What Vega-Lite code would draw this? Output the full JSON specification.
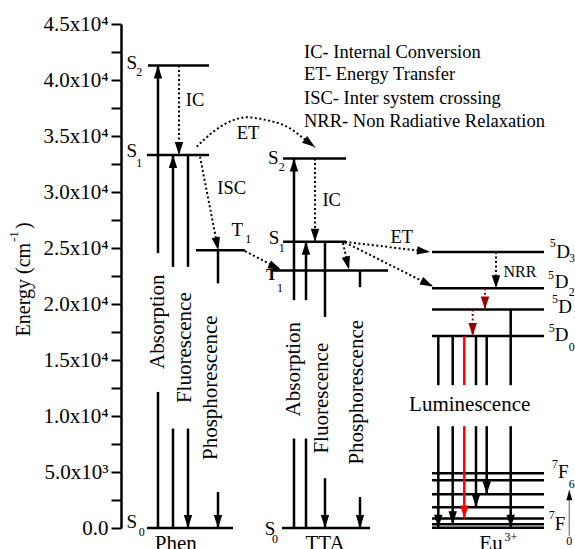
{
  "$schema": "https://vega.github.io/schema/vega-lite/v6.json",
  "width": 454,
  "height": 504,
  "autosize": {"type": "none"},
  "padding": {"left": 121, "top": 24, "right": 0, "bottom": 21},
  "background": "white",
  "config": {"view": {"stroke": null}, "text": {"font": "Liberation Serif", "color": "#000000"}},
  "datasets": {
    "solid": [
      {"x": 27, "x2": 88, "y": 41300, "y2": 41300, "role": "main"},
      {"x": 26, "x2": 88, "y": 33300, "y2": 33300, "role": "main"},
      {"x": 75, "x2": 124, "y": 24800, "y2": 24800, "role": "main"},
      {"x": 26, "x2": 112, "y": 0, "y2": 0, "role": "main"},
      {"x": 37, "x2": 37, "y": 0, "y2": 12150, "role": "main"},
      {"x": 37, "x2": 37, "y": 24540, "y2": 41300, "role": "main"},
      {"x": 52, "x2": 52, "y": 0, "y2": 8880, "role": "main"},
      {"x": 52, "x2": 52, "y": 23320, "y2": 33300, "role": "main"},
      {"x": 67, "x2": 67, "y": 23320, "y2": 33300, "role": "main"},
      {"x": 67, "x2": 67, "y": 0, "y2": 8880, "role": "main"},
      {"x": 97, "x2": 97, "y": 21840, "y2": 24800, "role": "main"},
      {"x": 97, "x2": 97, "y": 0, "y2": 3220, "role": "main"},
      {"x": 162, "x2": 225, "y": 33000, "y2": 33000, "role": "main"},
      {"x": 162, "x2": 225, "y": 25550, "y2": 25550, "role": "main"},
      {"x": 151, "x2": 267, "y": 23000, "y2": 23000, "role": "main"},
      {"x": 161, "x2": 249, "y": 0, "y2": 0, "role": "main"},
      {"x": 173, "x2": 173, "y": 0, "y2": 7990, "role": "main"},
      {"x": 173, "x2": 173, "y": 20340, "y2": 33000, "role": "main"},
      {"x": 185, "x2": 185, "y": 0, "y2": 7990, "role": "main"},
      {"x": 185, "x2": 185, "y": 20340, "y2": 25550, "role": "main"},
      {"x": 204, "x2": 204, "y": 18850, "y2": 25550, "role": "main"},
      {"x": 204, "x2": 204, "y": 0, "y2": 4440, "role": "main"},
      {"x": 239, "x2": 239, "y": 21500, "y2": 23000, "role": "main"},
      {"x": 239, "x2": 239, "y": 0, "y2": 2770, "role": "main"},
      {"x": 311, "x2": 423, "y": 24650, "y2": 24650, "role": "main"},
      {"x": 311, "x2": 423, "y": 21400, "y2": 21400, "role": "main"},
      {"x": 311, "x2": 423, "y": 19500, "y2": 19500, "role": "main"},
      {"x": 311, "x2": 423, "y": 17150, "y2": 17150, "role": "main"},
      {"x": 311, "x2": 423, "y": 4890, "y2": 4890, "role": "main"},
      {"x": 311, "x2": 423, "y": 4260, "y2": 4260, "role": "main"},
      {"x": 311, "x2": 423, "y": 3010, "y2": 3010, "role": "main"},
      {"x": 311, "x2": 423, "y": 1850, "y2": 1850, "role": "main"},
      {"x": 311, "x2": 423, "y": 840, "y2": 840, "role": "main"},
      {"x": 311, "x2": 423, "y": 330, "y2": 330, "role": "main"},
      {"x": 311, "x2": 423, "y": 30, "y2": 30, "role": "main"},
      {"x": 317.3, "x2": 317.3, "y": 12750, "y2": 17150, "role": "main"},
      {"x": 331.7, "x2": 331.7, "y": 12750, "y2": 17150, "role": "main"},
      {"x": 343.3, "x2": 343.3, "y": 12750, "y2": 17150, "role": "hyper"},
      {"x": 355, "x2": 355, "y": 12750, "y2": 17150, "role": "main"},
      {"x": 365.7, "x2": 365.7, "y": 12750, "y2": 17150, "role": "main"},
      {"x": 389.7, "x2": 389.7, "y": 12750, "y2": 19500, "role": "main"},
      {"x": 317.3, "x2": 317.3, "y": 30, "y2": 9090, "role": "main"},
      {"x": 331.7, "x2": 331.7, "y": 330, "y2": 9090, "role": "main"},
      {"x": 343.3, "x2": 343.3, "y": 840, "y2": 9090, "role": "hyper"},
      {"x": 355, "x2": 355, "y": 1850, "y2": 9090, "role": "main"},
      {"x": 365.7, "x2": 365.7, "y": 3010, "y2": 9090, "role": "main"},
      {"x": 389.7, "x2": 389.7, "y": 30, "y2": 9090, "role": "main"}
    ],
    "dotted": [
      {"x": 58, "x2": 58, "y": 41300, "y2": 33300, "role": "main"},
      {"x": 79, "x2": 97.3, "y": 33150, "y2": 24800, "role": "main"},
      {"x": 124, "x2": 160, "y": 24720, "y2": 23050, "role": "main"},
      {"x": 194, "x2": 194, "y": 33000, "y2": 25550, "role": "main"},
      {"x": 222, "x2": 228, "y": 25450, "y2": 23090, "role": "main"},
      {"x": 224, "x2": 309, "y": 25550, "y2": 24650, "role": "main"},
      {"x": 224, "x2": 312, "y": 25500, "y2": 21570, "role": "main"},
      {"x": 375, "x2": 375, "y": 24650, "y2": 21400, "role": "main"},
      {"x": 364, "x2": 364, "y": 21400, "y2": 19500, "role": "nrr"},
      {"x": 351.7, "x2": 351.7, "y": 19500, "y2": 17150, "role": "nrr"}
    ],
    "curve": [
      {"i": 1, "x": 75.7, "y": 34040},
      {"i": 2, "x": 92.3, "y": 35380},
      {"i": 3, "x": 112.3, "y": 36420},
      {"i": 4, "x": 125.7, "y": 36665},
      {"i": 5, "x": 145.7, "y": 36420},
      {"i": 6, "x": 169, "y": 35680},
      {"i": 7, "x": 182, "y": 34820},
      {"i": 8, "x": 194, "y": 34010}
    ],
    "heads": [
      {"x": 37, "y": 41300, "dir": 180, "role": "main"},
      {"x": 52, "y": 33300, "dir": 180, "role": "main"},
      {"x": 173, "y": 33000, "dir": 180, "role": "main"},
      {"x": 185, "y": 25550, "dir": 180, "role": "main"},
      {"x": 58, "y": 33300, "dir": 0, "role": "main"},
      {"x": 67, "y": 0, "dir": 0, "role": "main"},
      {"x": 97, "y": 0, "dir": 0, "role": "main"},
      {"x": 97.3, "y": 24800, "dir": -11, "role": "main"},
      {"x": 194, "y": 25550, "dir": 0, "role": "main"},
      {"x": 204, "y": 0, "dir": 0, "role": "main"},
      {"x": 239, "y": 0, "dir": 0, "role": "main"},
      {"x": 160, "y": 23050, "dir": -65, "role": "main"},
      {"x": 194, "y": 34010, "dir": -53, "role": "main"},
      {"x": 228, "y": 23090, "dir": -14, "role": "main"},
      {"x": 309, "y": 24650, "dir": -83, "role": "main"},
      {"x": 312, "y": 21570, "dir": -64, "role": "main"},
      {"x": 375, "y": 21400, "dir": 0, "role": "main"},
      {"x": 364, "y": 19500, "dir": 0, "role": "nrr"},
      {"x": 351.7, "y": 17150, "dir": 0, "role": "nrr"},
      {"x": 317.3, "y": 30, "dir": 0, "role": "main"},
      {"x": 331.7, "y": 330, "dir": 0, "role": "main"},
      {"x": 343.3, "y": 840, "dir": 0, "role": "hyper"},
      {"x": 355, "y": 1850, "dir": 0, "role": "main"},
      {"x": 365.7, "y": 3010, "dir": 0, "role": "main"},
      {"x": 389.7, "y": 30, "dir": 0, "role": "main"}
    ],
    "guide": [{"x": 448.3, "x2": 448.3, "y": -700, "y2": 3370}],
    "guideHead": [{"x": 448.3, "y": 3370, "dir": 180}],
    "legend": [
      {"text": "IC- Internal Conversion", "x": 183, "y": 42530},
      {"text": "ET- Energy Transfer", "x": 183, "y": 40530},
      {"text": "ISC- Inter system crossing", "x": 183, "y": 38420},
      {"text": "NRR- Non Radiative Relaxation", "x": 183, "y": 36360}
    ],
    "notes": [
      {"text": "IC", "x": 74, "y": 38210},
      {"text": "ET", "x": 127, "y": 35260},
      {"text": "ISC", "x": 110.7, "y": 30320},
      {"text": "IC", "x": 210.7, "y": 29280},
      {"text": "ET", "x": 280.7, "y": 26000}
    ],
    "nrrText": [{"text": "NRR", "x": 399, "y": 22870}],
    "rotated": [
      {"text": "Absorption", "x": 37, "y": 18420},
      {"text": "Fluorescence", "x": 63.5, "y": 16100},
      {"text": "Phosphorescence", "x": 89.7, "y": 12525},
      {"text": "Absorption", "x": 173, "y": 14180},
      {"text": "Fluorescence", "x": 200.7, "y": 11590},
      {"text": "Phosphorescence", "x": 235.7, "y": 12120}
    ],
    "titleMain": [
      {"text": "Energy (cm", "x": -96.8, "y": 21280},
      {"text": ")", "x": -96.8, "y": 27000}
    ],
    "titleSup": [{"text": "-1", "x": -107.5, "y": 26016}],
    "big": [{"text": "Luminescence", "x": 348.7, "y": 10960}],
    "names": [
      {"text": "Phen", "x": 54.8, "y": -1950},
      {"text": "TTA", "x": 204, "y": -1950},
      {"text": "Eu", "x": 370, "y": -1950}
    ],
    "levelText": [
      {"text": "S", "x": 10.7, "y": 41560},
      {"text": "S", "x": 10.7, "y": 33680},
      {"text": "S", "x": 10.7, "y": 536},
      {"text": "T", "x": 116.3, "y": 26600},
      {"text": "S", "x": 152.3, "y": 33000},
      {"text": "S", "x": 153, "y": 25855},
      {"text": "S", "x": 149, "y": -50},
      {"text": "D", "x": 442, "y": 24630},
      {"text": "D", "x": 440.7, "y": 21950},
      {"text": "D", "x": 444, "y": 19690},
      {"text": "D", "x": 440.7, "y": 17215},
      {"text": "F", "x": 442.3, "y": 5000},
      {"text": "F", "x": 439, "y": 393}
    ],
    "levelBold": [{"text": "T", "x": 150.7, "y": 22576}],
    "scripts": [
      {"text": "2", "x": 18.3, "y": 40740},
      {"text": "1", "x": 18.3, "y": 32556},
      {"text": "0", "x": 20.7, "y": -357},
      {"text": "1", "x": 127.3, "y": 25766},
      {"text": "2", "x": 160.7, "y": 32252},
      {"text": "1", "x": 160.7, "y": 24962},
      {"text": "1", "x": 159, "y": 21388},
      {"text": "0", "x": 154, "y": -947},
      {"text": "5", "x": 431.7, "y": 25408},
      {"text": "3", "x": 451, "y": 24068},
      {"text": "5", "x": 430, "y": 22576},
      {"text": "2", "x": 450.7, "y": 21057},
      {"text": "5", "x": 434, "y": 20432},
      {"text": "1", "x": 455, "y": 19092},
      {"text": "5", "x": 430.7, "y": 17841},
      {"text": "0", "x": 450.7, "y": 16144},
      {"text": "7", "x": 434, "y": 5753},
      {"text": "6", "x": 450.7, "y": 3967},
      {"text": "7", "x": 430.7, "y": 1135},
      {"text": "0", "x": 448.3, "y": -1161},
      {"text": "3+", "x": 390, "y": -800}
    ]
  },
  "encoding": {
    "x": {"field": "x", "type": "quantitative", "scale": {"domain": [0, 454], "nice": false, "zero": false}, "axis": null},
    "y": {
      "field": "y", "type": "quantitative",
      "scale": {"domain": [0, 45000], "nice": false},
      "axis": {
        "orient": "left",
        "values": [0, 2500, 5000, 7500, 10000, 12500, 15000, 17500, 20000, 22500, 25000, 27500, 30000, 32500, 35000, 37500, 40000, 42500, 45000],
        "labelExpr": "datum.value % 5000 !== 0 ? '' : datum.value === 0 ? '0.0' : datum.value < 10000 ? format(datum.value / 1000, '.1f') + 'x10³' : format(datum.value / 10000, '.1f') + 'x10⁴'",
        "grid": false,
        "tickSize": 10,
        "tickWidth": 2,
        "tickColor": "#000000",
        "domainColor": "#000000",
        "domainWidth": 2.5,
        "labelFont": "Liberation Serif",
        "labelFontSize": 21,
        "labelColor": "#000000",
        "labelPadding": 3,
        "labelOverlap": false,
        "labelFlush": false,
        "title": null,
        "encode": {"ticks": {"update": {"x2": {"signal": "datum.value % 5000 === 0 ? -10 : -5"}}}}
      }
    }
  },
  "layer": [
    {
      "data": {"name": "solid"},
      "mark": {"type": "rule", "strokeWidth": 2.5},
      "encoding": {
        "x2": {"field": "x2"}, "y2": {"field": "y2"},
        "color": {"field": "role", "type": "nominal", "scale": {"domain": ["main", "hyper", "nrr"], "range": ["#000000", "#ff0000", "#990000"]}, "legend": null}
      }
    },
    {
      "data": {"name": "dotted"},
      "mark": {"type": "rule", "strokeWidth": 2, "strokeDash": [2, 2.5]},
      "encoding": {
        "x2": {"field": "x2"}, "y2": {"field": "y2"},
        "color": {"field": "role", "type": "nominal", "scale": {"domain": ["main", "hyper", "nrr"], "range": ["#000000", "#ff0000", "#990000"]}, "legend": null}
      }
    },
    {
      "data": {"name": "curve"},
      "mark": {"type": "line", "strokeWidth": 2, "strokeDash": [2, 2.5], "interpolate": "monotone", "color": "#000000"},
      "encoding": {"order": {"field": "i", "type": "quantitative"}}
    },
    {
      "data": {"name": "heads"},
      "mark": {"type": "point", "shape": "M0,0L-0.65,-2L0.65,-2Z", "filled": true, "size": 169, "opacity": 1, "strokeWidth": 0},
      "encoding": {
        "angle": {"field": "dir", "type": "quantitative", "scale": null},
        "color": {"field": "role", "type": "nominal", "scale": {"domain": ["main", "hyper", "nrr"], "range": ["#000000", "#ff0000", "#990000"]}, "legend": null}
      }
    },
    {
      "data": {"name": "guide"},
      "mark": {"type": "rule", "strokeWidth": 1.3, "color": "#808080"},
      "encoding": {"x2": {"field": "x2"}, "y2": {"field": "y2"}}
    },
    {
      "data": {"name": "guideHead"},
      "mark": {"type": "point", "shape": "M0,0L-0.6,-2L0.6,-2Z", "filled": true, "size": 100, "opacity": 1, "strokeWidth": 0, "color": "#000000"},
      "encoding": {"angle": {"field": "dir", "type": "quantitative", "scale": null}}
    },
    {
      "data": {"name": "legend"},
      "mark": {"type": "text", "fontSize": 18.5, "align": "left", "baseline": "middle"},
      "encoding": {"text": {"field": "text"}}
    },
    {
      "data": {"name": "notes"},
      "mark": {"type": "text", "fontSize": 18.5, "align": "center", "baseline": "middle"},
      "encoding": {"text": {"field": "text"}}
    },
    {
      "data": {"name": "nrrText"},
      "mark": {"type": "text", "fontSize": 16, "align": "center", "baseline": "middle"},
      "encoding": {"text": {"field": "text"}}
    },
    {
      "data": {"name": "rotated"},
      "mark": {"type": "text", "fontSize": 21, "align": "center", "baseline": "middle", "angle": 270},
      "encoding": {"text": {"field": "text"}}
    },
    {
      "data": {"name": "titleMain"},
      "mark": {"type": "text", "fontSize": 20, "align": "center", "baseline": "middle", "angle": 270},
      "encoding": {"text": {"field": "text"}}
    },
    {
      "data": {"name": "titleSup"},
      "mark": {"type": "text", "fontSize": 13, "align": "center", "baseline": "middle", "angle": 270},
      "encoding": {"text": {"field": "text"}}
    },
    {
      "data": {"name": "big"},
      "mark": {"type": "text", "fontSize": 21, "align": "center", "baseline": "middle"},
      "encoding": {"text": {"field": "text"}}
    },
    {
      "data": {"name": "names"},
      "mark": {"type": "text", "fontSize": 21, "align": "center", "baseline": "alphabetic"},
      "encoding": {"text": {"field": "text"}}
    },
    {
      "data": {"name": "levelText"},
      "mark": {"type": "text", "fontSize": 19, "align": "center", "baseline": "middle"},
      "encoding": {"text": {"field": "text"}}
    },
    {
      "data": {"name": "levelBold"},
      "mark": {"type": "text", "fontSize": 17, "fontWeight": "bold", "align": "center", "baseline": "middle"},
      "encoding": {"text": {"field": "text"}}
    },
    {
      "data": {"name": "scripts"},
      "mark": {"type": "text", "fontSize": 12, "align": "center", "baseline": "middle"},
      "encoding": {"text": {"field": "text"}}
    }
  ]
}
